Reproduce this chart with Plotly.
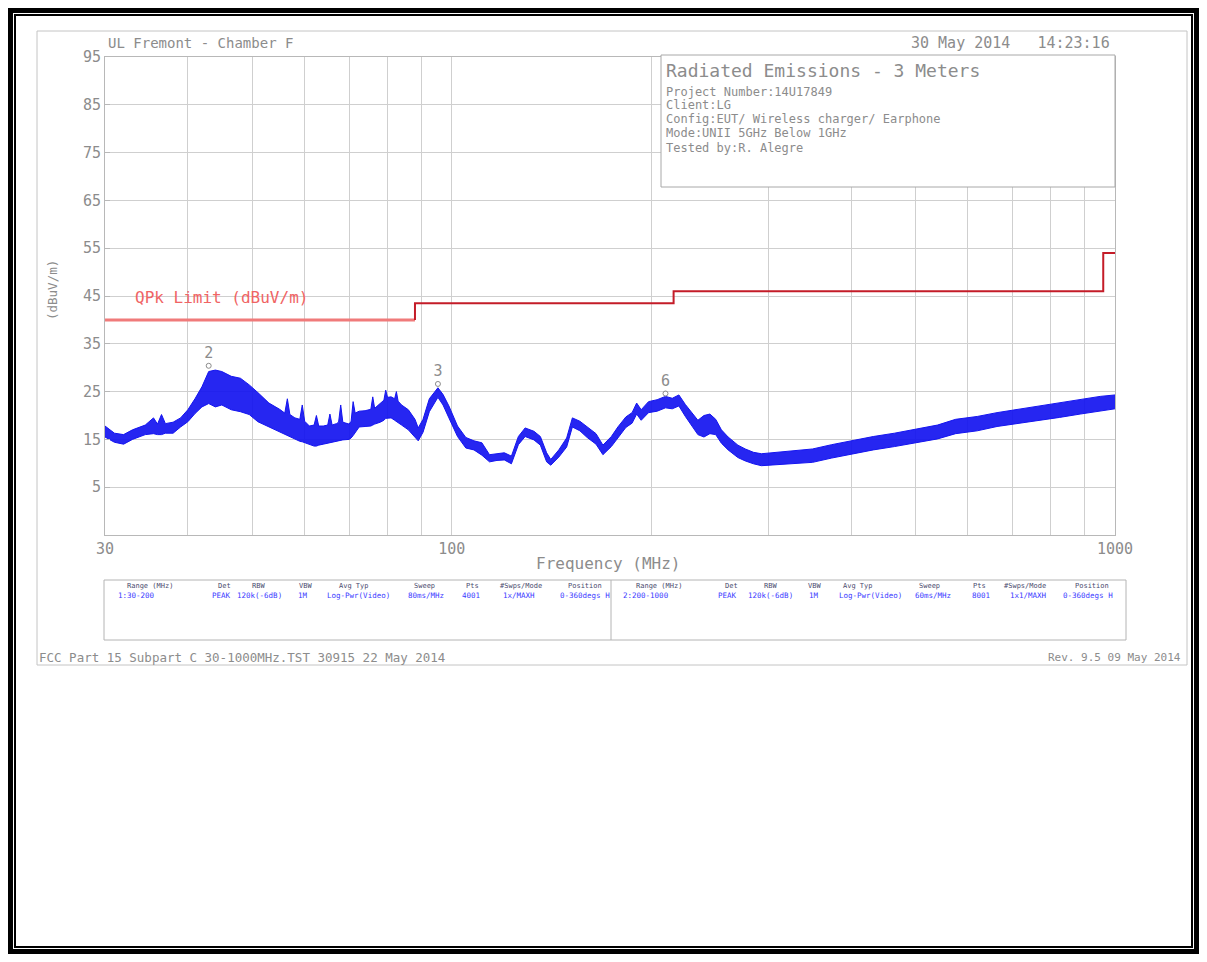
import plotly.graph_objects as go

freq_mhz = [30, 30.5, 31, 32, 33, 34.5, 35.5, 36, 36.5, 37, 38, 39, 40, 41, 42, 43, 44, 45,
            46.5, 48, 49.5, 51, 53, 55, 56, 56.5, 57, 58, 59, 59.5, 60, 61, 62, 62.5, 63, 64,
            65, 65.5, 66, 67, 67.5, 68, 68.5, 70, 70.5, 71, 71.5, 72.5, 74, 75.5, 76, 76.5,
            78, 79, 79.5, 80, 81, 82, 82.5, 83, 84, 86, 88, 89, 90.5, 92.5, 95.3, 97, 99,
            102, 105, 108, 111, 114, 117, 120, 123, 126, 129, 133, 136, 139, 141, 145, 149,
            152, 156, 160, 165, 169, 174, 178, 183, 187, 190, 193, 198, 204, 210, 215, 220,
            225, 230, 235, 240, 245, 250, 255, 261, 270, 277, 285, 293, 310, 324, 350, 374,
            400, 432, 465, 498, 540, 575, 620, 664, 715, 767, 825, 886, 950, 1000]
level_hi = [17.8, 17.0, 16.3, 16.0, 17.0, 18.0, 19.5, 18.2, 20.2, 18.3, 18.6, 19.5, 21.2, 23.5,
            26.0, 29.2, 29.5, 29.2, 28.2, 27.8, 26.4, 24.8, 22.6, 21.3, 20.5, 23.5, 20.2, 19.5,
            19.2, 22.2, 18.8, 17.8, 18.0, 20.0, 17.8, 17.8, 18.0, 20.3, 18.0, 18.3, 18.6, 22.2,
            18.6, 18.2, 18.8, 22.9, 20.5, 20.9, 21.0, 21.3, 23.9, 21.5, 22.5, 23.2, 25.3, 23.8,
            23.9, 23.5, 25.0, 23.0, 22.2, 21.2, 19.2, 17.4, 19.2, 23.5, 25.8, 24.4, 22.0, 17.8,
            15.4, 14.7, 14.3, 11.8, 12.0, 12.2, 11.5, 15.6, 17.4, 16.7, 15.6, 12.2, 10.8, 12.8,
            15.3, 19.5, 18.8, 17.6, 16.2, 13.8, 15.6, 17.6, 19.7, 20.6, 22.6, 21.2, 22.9, 23.3,
            24.0, 23.6, 24.3, 22.3, 20.6, 19.0, 20.0, 20.3, 19.2, 17.0, 15.5, 13.8, 13.0, 12.3,
            12.0, 12.3, 12.6, 13.0, 13.9, 14.7, 15.6, 16.3, 17.1, 18.0, 19.2, 19.8, 20.6, 21.3,
            21.9, 22.6, 23.3, 24.0, 24.3]
level_lo = [15.5, 15.0, 14.4, 14.0, 15.0, 16.0, 16.2, 16.0, 16.0, 16.3, 16.3, 17.6, 18.7, 20.4,
            21.8, 22.5, 21.8, 22.2, 21.2, 20.8, 20.2, 18.7, 17.6, 16.5, 16.0, 15.8, 15.5, 15.0,
            14.6, 14.5, 14.3, 13.9, 13.6, 13.6, 13.8, 14.0, 14.2, 14.3, 14.4, 14.6, 14.7, 14.8,
            14.9, 15.0, 15.3, 15.8, 16.5, 17.6, 17.7, 17.8, 18.0, 18.2, 18.6, 19.0, 19.4, 19.4,
            19.5, 19.0, 18.7, 18.5, 18.0, 17.0, 15.6, 14.7, 16.5, 20.8, 23.8, 22.2, 19.5, 15.6,
            13.2, 12.8, 11.7, 10.3, 10.6, 10.7, 9.9, 13.9, 15.6, 14.9, 13.8, 10.3, 9.6, 11.3,
            13.4, 17.6, 16.8, 15.4, 14.0, 11.8, 13.5, 15.4, 17.5, 18.4, 20.3, 19.0, 20.6, 20.9,
            21.6, 21.4, 22.0, 19.8, 18.0, 16.0, 15.5, 16.2, 16.0, 14.2, 12.8, 11.2, 10.5, 9.9,
            9.5, 9.7, 9.8, 10.2, 11.1, 11.9, 12.8, 13.5, 14.2, 15.1, 16.2, 16.8, 17.7, 18.3,
            19.0, 19.6, 20.3, 20.9, 21.4]

# FCC Part 15 quasi-peak limit (dBuV/m)
limit_freq = [30, 88, 88, 216, 216, 960, 960, 1000]
limit_level = [40, 40, 43.5, 43.5, 46, 46, 54, 54]

# numbered peak markers
peak_freq = [43.0, 95.3, 210.0]
peak_level = [30.4, 26.6, 24.6]
peak_label = ["2", "3", "6"]

ytick_vals = [5, 15, 25, 35, 45, 55, 65, 75, 85, 95]
xgrid_vals = [30, 40, 50, 60, 70, 80, 90, 100, 200, 300, 400, 500, 600, 700, 800, 900, 1000]
xgrid_text = ["30", "", "", "", "", "", "", "100", "", "", "", "", "", "", "", "", "1000"]

info_title = "Radiated Emissions - 3 Meters"
info_lines = ["Project Number:14U17849", "Client:LG",
              "Config:EUT/ Wireless charger/ Earphone",
              "Mode:UNII 5GHz Below 1GHz", "Tested by:R. Alegre"]

table_headers = ["Range (MHz)", "Det", "RBW", "VBW", "Avg Typ", "Sweep", "Pts",
                 "#Swps/Mode", "Position"]
table_row1 = ["1:30-200", "PEAK", "120k(-6dB)", "1M", "Log-Pwr(Video)", "80ms/MHz", "4001",
              "1x/MAXH", "0-360degs H"]
table_row2 = ["2:200-1000", "PEAK", "120k(-6dB)", "1M", "Log-Pwr(Video)", "60ms/MHz", "8001",
              "1x1/MAXH", "0-360degs H"]

# the page body keeps an 8px margin, so the figure is 16px smaller than the window
W, H = 1191, 946
L, R, T, B = 97, 84, 49, 419
FONT = "DejaVu Sans Mono"
GRAY = "#8c8c8c"


# positions below are given in window pixels
def px(x):
    return (x - 105) / (W - L - R)


def py(y):
    return 1 - (y - 57) / (H - T - B)


fig = go.Figure()

fig.add_trace(go.Scatter(x=freq_mhz, y=level_lo, mode="lines",
                         line=dict(color="#1414f0", width=1)))
fig.add_trace(go.Scatter(x=freq_mhz, y=level_hi, mode="lines", fill="tonexty",
                         fillcolor="rgba(20,20,240,0.92)",
                         line=dict(color="#1414f0", width=1)))

fig.add_trace(go.Scatter(x=limit_freq[:2], y=limit_level[:2], mode="lines",
                         line=dict(color="#f07a7a", width=3)))
fig.add_trace(go.Scatter(x=limit_freq[1:], y=limit_level[1:], mode="lines",
                         line=dict(color="#c41c28", width=2)))

fig.add_trace(go.Scatter(x=peak_freq, y=peak_level, mode="markers+text", text=peak_label,
                         textposition="top center",
                         textfont=dict(family=FONT, size=15, color=GRAY),
                         marker=dict(symbol="circle-open", size=5, color=GRAY)))

ann = []


def txt(x, y, s, size, anchor="left", color=GRAY, angle=0):
    ann.append(dict(x=px(x), y=py(y), xref="paper", yref="paper", text=s, showarrow=False,
                    xanchor=anchor, yanchor="middle", textangle=angle,
                    font=dict(family=FONT, size=size, color=color)))


txt(106, 43, "UL Fremont - Chamber F", 14)
txt(1112, 43, "30 May 2014   14:23:16", 15, "right")
txt(664, 70, info_title, 18)
for s, yy in zip(info_lines, [92, 105, 119, 133, 148]):
    txt(664, yy, s, 12)
txt(133, 297, "QPk Limit (dBuV/m)", 16, color="#f06464")
txt(52, 290, "(dBuV/m)", 12.5, "center", angle=-90)
txt(608, 563, "Frequency (MHz)", 16, "center")
txt(37, 657, "FCC Part 15 Subpart C 30-1000MHz.TST 30915 22 May 2014", 12.5)
txt(1183, 657, "Rev. 9.5 09 May 2014", 11, "right")

hdr_x1 = [150, 224, 258, 305, 354, 424, 472, 521, 585]
hdr_x2 = [659, 731, 770, 814, 858, 929, 979, 1025, 1092]
val_x1 = [116, 221, 259, 303, 358, 426, 471, 519, 585]
val_x2 = [621, 727, 770, 814, 870, 933, 981, 1028, 1088]
for i, h in enumerate(table_headers):
    txt(hdr_x1[i], 586, h, 7, "center", "#4a4a6e")
    txt(hdr_x2[i], 586, h, 7, "center", "#4a4a6e")
    a = "left" if i == 0 else "center"
    txt(val_x1[i], 595, table_row1[i], 7.5, a, "#3c3cff")
    txt(val_x2[i], 595, table_row2[i], 7.5, a, "#3c3cff")

shapes = []


def rect(x0, y0, x1, y1, color, width, fill=None):
    shapes.append(dict(type="rect", xref="paper", yref="paper",
                       x0=px(x0), x1=px(x1), y0=py(y0), y1=py(y1),
                       line=dict(color=color, width=width),
                       fillcolor=fill if fill else "rgba(0,0,0,0)", layer="above"))


rect(8, 8, 1199, 954, "black", 10)
rect(15, 15, 1192, 947, "black", 2)
rect(37, 31, 1187, 665, "#c4c4c4", 1)
rect(661, 55, 1115, 187, "#a8a8a8", 1, "white")
rect(104, 580, 1126, 640, "#b4b4b4", 1)
shapes.append(dict(type="line", xref="paper", yref="paper", x0=px(611), x1=px(611),
                   y0=py(580), y1=py(640), line=dict(color="#b4b4b4", width=1)))

fig.update_layout(
    width=W, height=H,
    margin=dict(l=L, r=R, t=T, b=B),
    paper_bgcolor="white", plot_bgcolor="white",
    showlegend=False, hovermode=False,
    annotations=ann, shapes=shapes,
    xaxis=dict(type="log", range=[1.4771, 3], tickvals=xgrid_vals, ticktext=xgrid_text,
               showgrid=True, gridcolor="#cfcfcf", gridwidth=1, zeroline=False,
               showline=True, linecolor="#b8b8b8", mirror=True,
               tickfont=dict(family=FONT, size=15, color=GRAY)),
    yaxis=dict(range=[-5, 95], tickvals=ytick_vals, showgrid=True, gridcolor="#cfcfcf",
               zeroline=False, showline=True, linecolor="#b8b8b8", mirror=True,
               ticks="inside", ticklen=5, tickcolor="#b8b8b8",
               tickfont=dict(family=FONT, size=15, color=GRAY)),
)

fig.write_html("out.html")
